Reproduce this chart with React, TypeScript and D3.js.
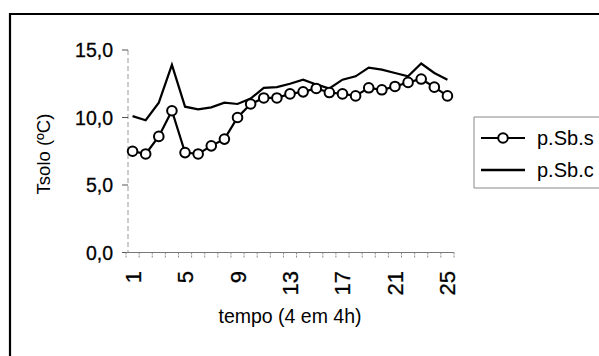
import React from "react";
import * as d3 from "d3";

// Soil temperature readings, every 4 hours
const categories: number[] = d3.range(1, 26);
const seriesNames: string[] = ["p.Sb.s", "p.Sb.c"];
const pSbS: number[] = [7.5, 7.3, 8.6, 10.5, 7.4, 7.3, 7.9, 8.4, 10.0, 11.0, 11.45, 11.45, 11.75, 11.9, 12.15, 11.85, 11.75, 11.6, 12.2, 12.05, 12.3, 12.6, 12.85, 12.25, 11.6];
const pSbC: number[] = [10.1, 9.8, 11.1, 13.9, 10.8, 10.6, 10.75, 11.1, 11.0, 11.4, 12.2, 12.25, 12.5, 12.8, 12.45, 12.15, 12.8, 13.05, 13.7, 13.55, 13.3, 13.05, 14.0, 13.3, 12.8];
const yTicks: number[] = [0, 5, 10, 15];
const xLabels: number[] = [1, 5, 9, 13, 17, 21, 25];

const W = 599;
const H = 356;
const FONT = "Arial, 'Liberation Sans', Helvetica, sans-serif";

export default function App() {
  const x = d3.scaleBand<number>().domain(categories).range([126, 454]).padding(0);
  const y = d3.scaleLinear().domain([0, 15]).range([252.5, 50]);
  const cx = (c: number) => (x(c) as number) + x.bandwidth() / 2;

  const line = d3
    .line<number>()
    .x((_, i) => cx(categories[i]))
    .y((d) => y(d));

  const fmt = (v: number) => v.toFixed(1).replace(".", ",");
  const boundaries = d3.range(categories.length + 1).map((i) => 126 + i * x.bandwidth());

  return (
    <svg
      width={W}
      height={H}
      style={{ position: "absolute", left: 0, top: 0, background: "#fff" }}
      fontFamily={FONT}
    >
      <rect x={0} y={0} width={W} height={H} fill="#fff" />
      {/* outer chart frame */}
      <path d={`M10,${H + 5} V14 H${W + 5}`} fill="none" stroke="#000" strokeWidth={2.2} />

      {/* y axis */}
      <line x1={128} x2={128} y1={y(15)} y2={y(0)} stroke="#999" strokeWidth={1} strokeDasharray="5,3" />
      {yTicks.map((t) => (
        <g key={t}>
          <line x1={122} x2={128} y1={y(t)} y2={y(t)} stroke="#555" strokeWidth={1} />
          <text x={113} y={y(t) + 7} fontSize={19.5} textAnchor="end" fill="#000" stroke="#000" strokeWidth={0.3}>
            {fmt(t)}
          </text>
        </g>
      ))}

      {/* x axis */}
      <line x1={126} x2={454} y1={y(0)} y2={y(0)} stroke="#777" strokeWidth={1.2} />
      {boundaries.map((bx, i) => (
        <line key={i} x1={bx} x2={bx} y1={y(0)} y2={y(0) + 5} stroke="#888" strokeWidth={1} strokeDasharray="2,1" />
      ))}
      {xLabels.map((c) => (
        <text
          key={c}
          transform={`translate(${cx(c) + 8},271) rotate(-90)`}
          fontSize={22}
          textAnchor="end"
          fill="#000"
          stroke="#000"
          strokeWidth={0.3}
        >
          {c}
        </text>
      ))}

      {/* axis titles */}
      <text x={290} y={323} fontSize={19.5} textAnchor="middle" fill="#000">
        tempo (4 em 4h)
      </text>
      <text transform="translate(50,154) rotate(-90)" fontSize={18.5} textAnchor="middle" fill="#000">
        Tsolo (ºC)
      </text>

      {/* series */}
      <path d={line(pSbC) as string} fill="none" stroke="#000" strokeWidth={2.2} />
      <path d={line(pSbS) as string} fill="none" stroke="#000" strokeWidth={2.2} />
      {pSbS.map((v, i) => (
        <circle key={i} cx={cx(categories[i])} cy={y(v)} r={4.8} fill="#fff" stroke="#000" strokeWidth={2} />
      ))}

      {/* legend */}
      <path d={`M${W + 5},117 H474 V188 H${W + 5}`} fill="none" stroke="#888" strokeWidth={1} />
      <line x1={481} x2={525} y1={138} y2={138} stroke="#000" strokeWidth={2} />
      <circle cx={503} cy={138} r={4.8} fill="#fff" stroke="#000" strokeWidth={2} />
      <text x={537} y={145} fontSize={20} fill="#000">
        {seriesNames[0]}
      </text>
      <line x1={481} x2={525} y1={170} y2={170} stroke="#000" strokeWidth={2.4} />
      <text x={537} y={177} fontSize={20} fill="#000">
        {seriesNames[1]}
      </text>
    </svg>
  );
}
